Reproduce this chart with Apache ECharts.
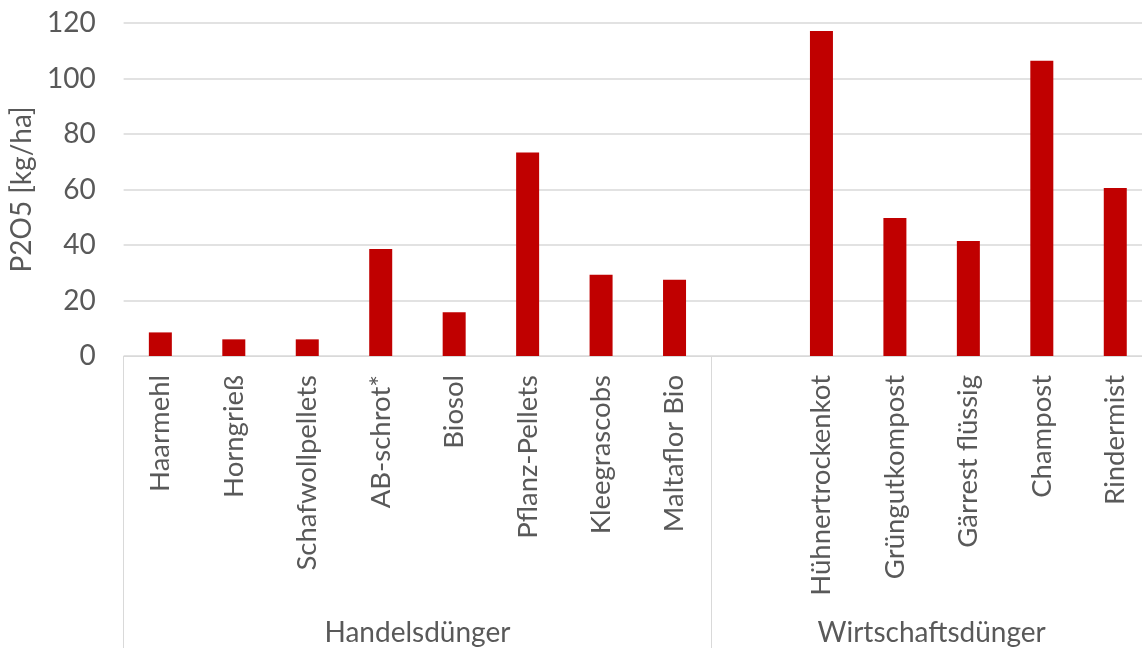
<!DOCTYPE html>
<html>
<head>
<meta charset="utf-8">
<script src="https://cdn.jsdelivr.net/npm/echarts@6/dist/echarts.min.js"></script>
<style>
html,body{margin:0;padding:0;background:#fff;overflow:hidden;width:1142px;height:648px;}
#chart{width:1152px;height:648px;}
</style>
</head>
<body>
<div id="chart"></div>
<script>
// Data
const categories = ['Haarmehl','Horngrieß','Schafwollpellets','AB-schrot*','Biosol','Pflanz-Pellets','Kleegrascobs','Maltaflor Bio','',
  'Hühnertrockenkot','Grüngutkompost','Gärrest flüssig','Champost','Rindermist'];
const values = [8.5, 6.0, 6.0, 38.6, 15.8, 73.3, 29.3, 27.5, null, 117.1, 49.7, 41.4, 106.4, 60.5];
const groupNames = ['Handelsdünger', 'Wirtschaftsdünger'];
const groupSizes = [8, 6];
const yTicks = [0, 20, 40, 60, 80, 100, 120];

// group boundaries and centres in category units
const bounds = [0];
groupSizes.forEach(s => bounds.push(bounds[bounds.length - 1] + s));
const centres = groupSizes.map((s, i) => bounds[i] + s / 2);
const total = bounds[bounds.length - 1];

const FONT = 'Lato';
const TXT = '#595959';
const GRID = '#d9d9d9';

const chart = echarts.init(document.getElementById('chart'), null, {renderer: 'canvas'});
chart.setOption({
  animation: false,
  backgroundColor: '#ffffff',
  textStyle: {fontFamily: FONT},
  grid: {left: 120, right: 0, top: 23, height: 333, containLabel: false},
  xAxis: [{
    type: 'category',
    data: categories,
    axisLine: {show: true, lineStyle: {color: GRID, width: 1}},
    axisTick: {show: false},
    axisLabel: {
      rotate: 90, interval: 0, margin: 19,
      color: TXT, fontSize: 27.5, fontFamily: FONT
    },
    splitLine: {show: false}
  }, {
    type: 'value',
    min: 0, max: total,
    position: 'bottom',
    offset: 292,
    axisLine: {show: false},
    splitLine: {show: false},
    axisTick: {
      show: true, inside: true, length: 292,
      customValues: bounds,
      lineStyle: {color: GRID, width: 1}
    },
    axisLabel: {
      show: true, margin: -29,
      customValues: centres,
      formatter: function (v) {
        const i = centres.findIndex(c => Math.abs(c - v) < 1e-6);
        return i >= 0 ? groupNames[i] : '';
      },
      color: TXT, fontSize: 28, fontFamily: FONT
    }
  }],
  yAxis: {
    type: 'value',
    min: yTicks[0], max: yTicks[yTicks.length - 1], interval: 20,
    name: 'P2O5 [kg/ha]',
    nameLocation: 'middle',
    nameGap: 81,
    nameRotate: 90,
    nameTextStyle: {color: TXT, fontSize: 28, fontFamily: FONT},
    axisLine: {show: false},
    axisTick: {show: false},
    axisLabel: {color: TXT, fontSize: 28, fontFamily: FONT, margin: 28},
    splitLine: {show: true, lineStyle: {color: GRID, width: 1.5}}
  },
  series: [{
    type: 'bar',
    data: values,
    barWidth: 23,
    itemStyle: {color: '#c00000'}
  }]
});
</script>
</body>
</html>
